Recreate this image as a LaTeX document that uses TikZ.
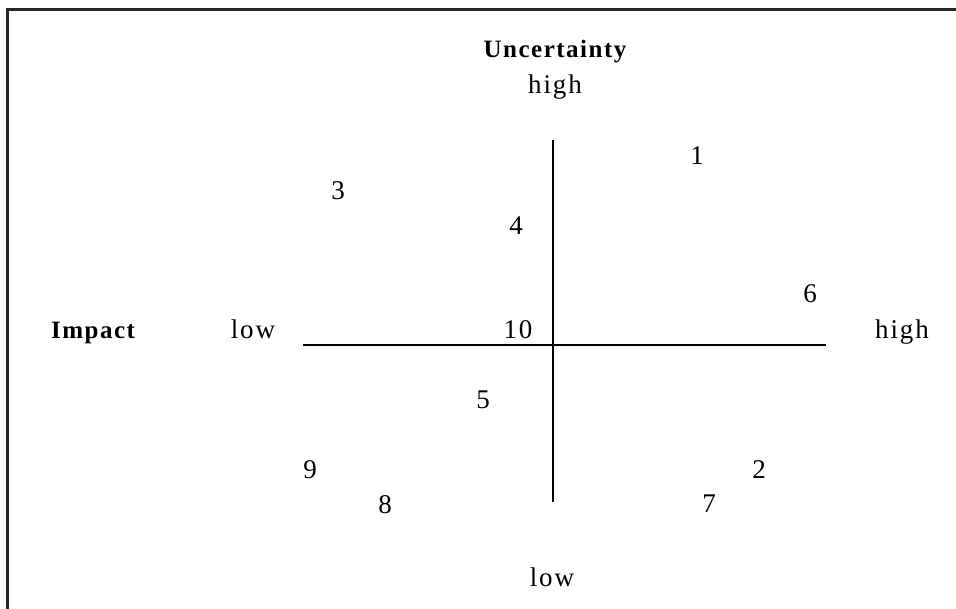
\documentclass[tikz,border=0pt]{standalone}
\usepackage{fontspec}
\setmainfont{Liberation Serif}
\usepackage{tikz}
\usetikzlibrary{positioning}

\begin{document}
\begin{tikzpicture}[x=1pt,y=-1pt,
  lbl/.style={anchor=base,inner sep=0pt,font=\fontsize{27}{32}\selectfont\addfontfeatures{LetterSpace=7}},
  ttl/.style={lbl,font=\fontsize{25}{32}\selectfont\bfseries\addfontfeatures{LetterSpace=6}},
  axis/.style={line width=1.6pt}]
\useasboundingbox (0,0) rectangle (956,609);
% frame
\coordinate (fl) at (7.5,609);
\coordinate (fc) at (7.5,9.5);
\coordinate (fr) at (956,9.5);
\draw[line width=2.6pt,black!85] (fl) -- (fc) -- (fr);
% axis titles and ends
\node[ttl] (unc) at (555,58) {Uncertainty};
\node[lbl] (uhigh) at (555,94) {high};
\node[lbl] (ulow) at (552,586) {low};
\node[ttl] (imp) at (93,339) {Impact};
\node[lbl] (ilow) at (253,339) {low};
\node[lbl] (ihigh) at (902,339) {high};
% axes
\coordinate (top) at (553,140);
\coordinate (bot) at (553,502);
\coordinate (left) at (303,345);
\coordinate (right) at (826,345);
\draw[axis] (top) -- (bot);
\draw[axis] (left) -- (right);
% items
\node[lbl] (n1) at (697,165) {1};
\node[lbl] (n2) at (759,478) {2};
\node[lbl] (n3) at (338,200) {3};
\node[lbl] (n4) at (516,235) {4};
\node[lbl] (n5) at (483,409) {5};
\node[lbl] (n6) at (810,303) {6};
\node[lbl] (n7) at (709,512) {7};
\node[lbl] (n8) at (385,513) {8};
\node[lbl] (n9) at (310,478) {9};
\node[lbl] (n10) at (518,339) {10};
\end{tikzpicture}
\end{document}
